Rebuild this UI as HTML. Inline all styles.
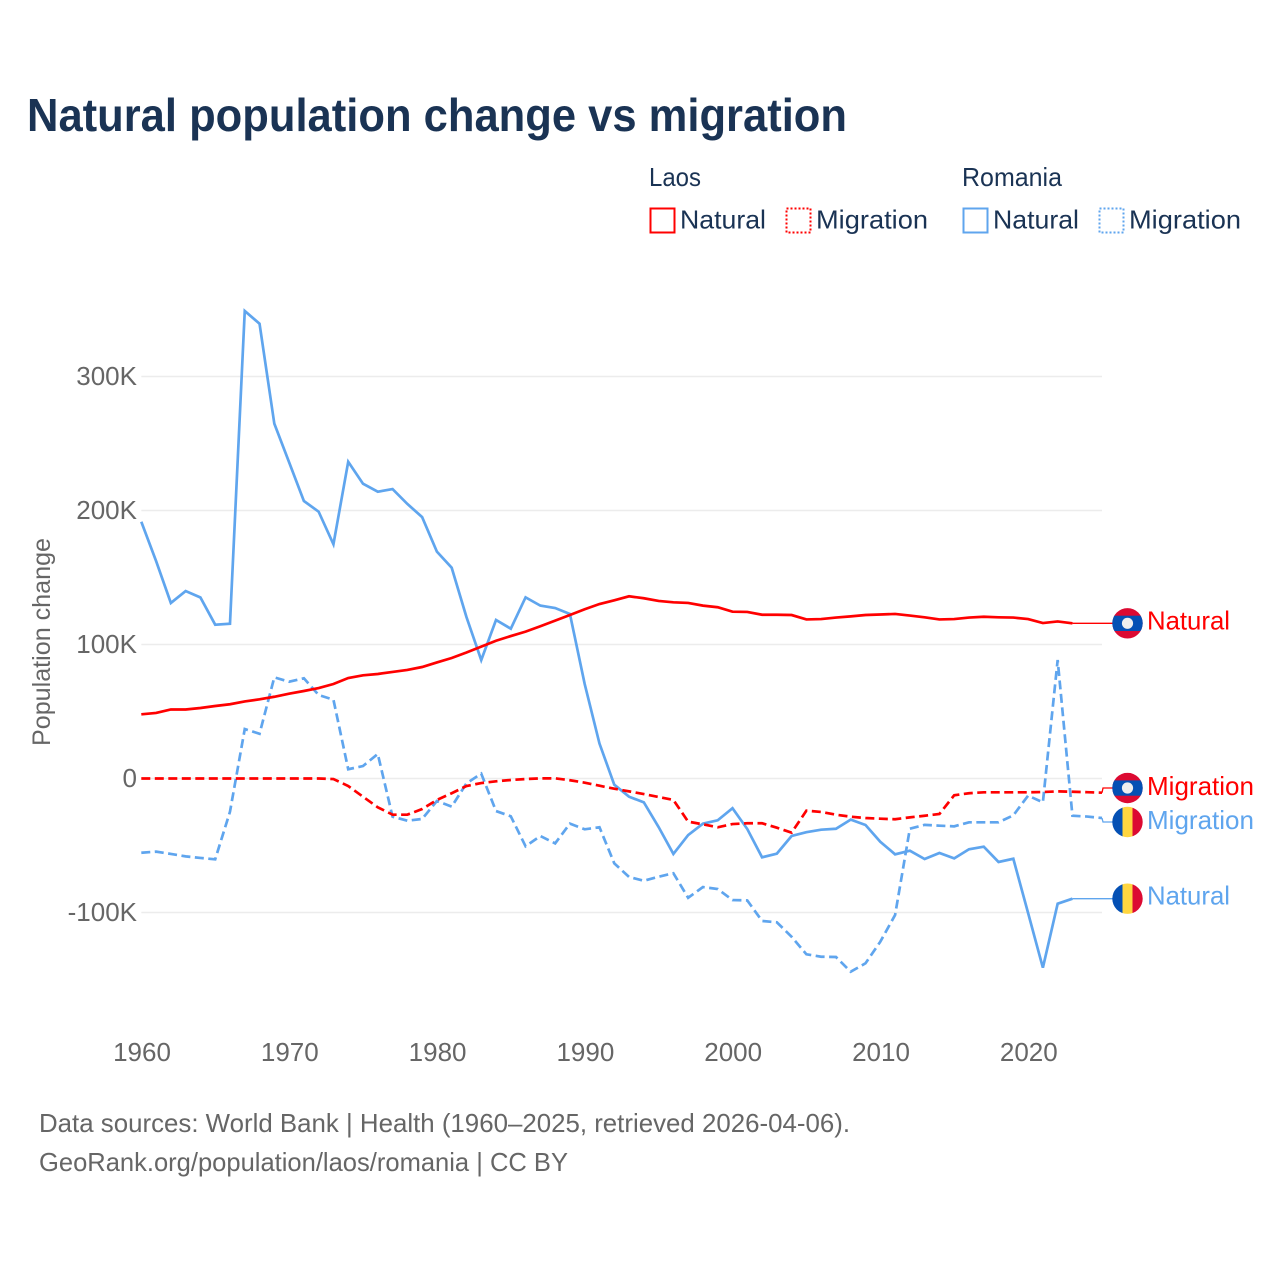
<!DOCTYPE html>
<html lang="en">
<head>
<meta charset="utf-8">
<title>Natural population change vs migration</title>
<style>
html,body{margin:0;padding:0;background:#fff;}
svg{display:block;font-family:"Liberation Sans",sans-serif;}
</style>
</head>
<body>
<svg id="chart" xmlns="http://www.w3.org/2000/svg" width="1280" height="1280" viewBox="0 0 1280 1280">
  <rect width="1280" height="1280" fill="#ffffff"/>
  <text x="27" y="131" font-size="46" font-weight="700" fill="#1a3354" textLength="820" lengthAdjust="spacingAndGlyphs">Natural population change vs migration</text>

  <g font-size="26" fill="#1a3354">
    <text x="649" y="186" textLength="52" lengthAdjust="spacingAndGlyphs">Laos</text>
    <text x="962" y="186" textLength="100" lengthAdjust="spacingAndGlyphs">Romania</text>
    <rect x="650.5" y="208.5" width="24" height="24" fill="none" stroke="#ff0000" stroke-width="2"/>
    <text x="680" y="228.5" textLength="86" lengthAdjust="spacingAndGlyphs">Natural</text>
    <rect x="786.5" y="208.5" width="24" height="24" fill="none" stroke="#ff0000" stroke-width="2" stroke-dasharray="2 2"/>
    <text x="816" y="228.5" textLength="112" lengthAdjust="spacingAndGlyphs">Migration</text>
    <rect x="963.5" y="208.5" width="24" height="24" fill="none" stroke="#5fa5ee" stroke-width="2"/>
    <text x="993" y="228.5" textLength="86" lengthAdjust="spacingAndGlyphs">Natural</text>
    <rect x="1099.5" y="208.5" width="24" height="24" fill="none" stroke="#5fa5ee" stroke-width="2" stroke-dasharray="2 2"/>
    <text x="1129" y="228.5" textLength="112" lengthAdjust="spacingAndGlyphs">Migration</text>
  </g>

  <text transform="translate(50,642) rotate(-90)" text-anchor="middle" font-size="25" fill="#666666" textLength="208" lengthAdjust="spacingAndGlyphs">Population change</text>

  <g id="grid"></g>
  <g id="y-ticks" font-size="26" fill="#666666" text-anchor="end"></g>
  <g id="x-ticks" font-size="26" fill="#666666" text-anchor="middle"></g>
  <g id="series"></g>

  <defs>
    <clipPath id="flag-clip-1"><circle cx="1127.5" cy="623.3" r="15.2"/></clipPath>
    <clipPath id="flag-clip-2"><circle cx="1127.5" cy="788" r="15.2"/></clipPath>
    <clipPath id="flag-clip-3"><circle cx="1127.5" cy="822" r="15.2"/></clipPath>
    <clipPath id="flag-clip-4"><circle cx="1127.5" cy="898.7" r="15.2"/></clipPath>
  </defs>

  <g clip-path="url(#flag-clip-1)">
    <rect x="1112" y="608" width="31" height="31" fill="#dc0a32"/>
    <rect x="1112" y="615.7" width="31" height="15.3" fill="#0450b4"/>
    <circle cx="1127.5" cy="623.3" r="5.6" fill="#eeeeee"/>
  </g>
  <g clip-path="url(#flag-clip-2)">
    <rect x="1112" y="772.7" width="31" height="31" fill="#dc0a32"/>
    <rect x="1112" y="780.4" width="31" height="15.3" fill="#0450b4"/>
    <circle cx="1127.5" cy="788" r="5.6" fill="#eeeeee"/>
  </g>
  <g clip-path="url(#flag-clip-3)">
    <rect x="1112" y="806" width="11" height="32" fill="#0450b4"/>
    <rect x="1122.5" y="806" width="10" height="32" fill="#ffd640"/>
    <rect x="1132.5" y="806" width="11" height="32" fill="#dc0a32"/>
  </g>
  <g clip-path="url(#flag-clip-4)">
    <rect x="1112" y="883" width="11" height="32" fill="#0450b4"/>
    <rect x="1122.5" y="883" width="10" height="32" fill="#ffd640"/>
    <rect x="1132.5" y="883" width="11" height="32" fill="#dc0a32"/>
  </g>

  <g font-size="26">
    <text x="1147" y="629.5" fill="#ff0000" textLength="83" lengthAdjust="spacingAndGlyphs">Natural</text>
    <text x="1147" y="795" fill="#ff0000" textLength="107" lengthAdjust="spacingAndGlyphs">Migration</text>
    <text x="1147" y="829" fill="#5fa5ee" textLength="107" lengthAdjust="spacingAndGlyphs">Migration</text>
    <text x="1147" y="904.5" fill="#5fa5ee" textLength="83" lengthAdjust="spacingAndGlyphs">Natural</text>
  </g>

  <g font-size="26" fill="#666666">
    <text x="39" y="1132" textLength="811" lengthAdjust="spacingAndGlyphs">Data sources: World Bank | Health (1960–2025, retrieved 2026-04-06).</text>
    <text x="39" y="1171" textLength="529" lengthAdjust="spacingAndGlyphs">GeoRank.org/population/laos/romania | CC BY</text>
  </g>
</svg>
<script>
const startYear = 1960;
const xTickYears = [1960, 1970, 1980, 1990, 2000, 2010, 2020];
const yTickValues = [300, 200, 100, 0, -100];
const yTickLabels = ['300K', '200K', '100K', '0', '-100K'];

const romaniaNatural = [191.6,162.3,131,139.9,135.1,114.8,115.5,348.9,339.4,264.8,236,207.1,199.1,174.8,236.4,220,214,216,204.9,195.1,169.3,157.3,120.5,88.4,118.3,111.8,135.2,129,127.2,122.8,70.5,26.1,-4.6,-13.6,-17.8,-36.2,-56.3,-42.2,-33.7,-31.2,-22.2,-37.7,-58.8,-56.1,-42.9,-40.1,-38.2,-37.5,-30.7,-34.7,-47.2,-56.6,-53.9,-60.1,-55.6,-59.6,-52.8,-50.9,-62.3,-59.9,-100.4,-141.2,-93.4,-89.7];
const laosNatural = [47.9,48.9,51.5,51.5,52.6,54.1,55.4,57.5,59.1,61,63.3,65.3,67.5,70.5,75,77,78,79.5,81,83.2,86.6,89.9,94,98.4,102.8,106.3,109.6,113.6,117.8,122,126.3,130.2,133,136,134.5,132.5,131.5,131,129,127.8,124.5,124.3,122.2,122.2,122,118.7,119,120.1,121,122,122.4,122.8,121.6,120.3,118.7,119,120.1,120.7,120.3,120.1,119,116,117.2,115.8];
const laosMigration = [0,0,0,0,0,0,0,0,0,0,0,0,0,-0.4,-5.6,-13.6,-21.5,-27,-27,-22.8,-16,-11,-5.6,-3.4,-2.1,-1.1,-0.4,0.1,0.1,-1.3,-3.1,-5.4,-7.6,-9.6,-11.6,-13.8,-16,-32.2,-34.2,-36.4,-34,-33.4,-33.4,-36.7,-40.4,-24,-25,-27,-28.5,-29.5,-30,-30.4,-29,-27.8,-26.5,-12.5,-11,-10.3,-10.3,-10.3,-10.3,-10.1,-9.6,-9.9,-10.2,-10.6];
const romaniaMigration = [-55.4,-54.6,-56.3,-58.1,-59.3,-60.3,-24.8,36.9,33.4,75.5,72.2,74.8,62.3,58.8,6.9,9.3,18.3,-28.5,-31.5,-30.2,-16.8,-21,-3.6,3.6,-24.3,-28.2,-50.6,-42.9,-48.4,-33.7,-37.9,-36.4,-63.3,-73.5,-76.3,-73.3,-70.7,-89,-81,-82.5,-90.7,-91,-106.3,-107.3,-118.1,-131.2,-133,-133.2,-144.2,-137.9,-121.8,-101.9,-37.5,-34.6,-35.2,-35.7,-32.7,-32.7,-32.7,-27.5,-12.8,-17.8,88.4,-27.8,-28.4,-29.5];

const NS = 'http://www.w3.org/2000/svg';
const BLUE = '#5fa5ee';
const RED = '#ff0000';
const DASH = '9 4.5';
const FLAG_X = 1113;

function xScale(year) { return 141.3 + (year - startYear) * 14.78; }
function yScale(v) { return 778.5 - v * 1.34; }

const gridGroup = document.getElementById('grid');
const yTickGroup = document.getElementById('y-ticks');
const xTickGroup = document.getElementById('x-ticks');
const seriesGroup = document.getElementById('series');

yTickValues.forEach(function (v, i) {
  const line = document.createElementNS(NS, 'line');
  
  
  line.setAttribute('x1', xScale(startYear));
  line.setAttribute('x2', xScale(2025));
  line.setAttribute('y1', yScale(v));
  line.setAttribute('y2', yScale(v));
  line.setAttribute('stroke', '#ececec');
  line.setAttribute('stroke-width', '1.5');
  gridGroup.appendChild(line);
  const t = document.createElementNS(NS, 'text');
  
  
  t.setAttribute('x', 137);
  t.setAttribute('y', yScale(v) + 8.5);
  t.textContent = yTickLabels[i];
  yTickGroup.appendChild(t);
});

xTickYears.forEach(function (yr) {
  const t = document.createElementNS(NS, 'text');
  
  
  t.setAttribute('x', xScale(yr) + 0.7);
  t.setAttribute('y', 1061);
  t.textContent = String(yr);
  xTickGroup.appendChild(t);
});

function linePath(values) {
  return values.map(function (v, i) {
    return (i ? 'L' : 'M') + xScale(startYear + i).toFixed(2) + ' ' + yScale(v).toFixed(2);
  }).join('');
}

function drawConnector(values, color, flagY) {
  const lastX = xScale(startYear + values.length - 1);
  const lastY = yScale(values[values.length - 1]);
  const c = document.createElementNS(NS, 'path');
  
  
  const midX = lastX + 1;
  c.setAttribute('d', 'M' + lastX + ' ' + lastY + 'L' + midX + ' ' + flagY + 'L' + FLAG_X + ' ' + flagY);
  c.setAttribute('fill', 'none');
  c.setAttribute('stroke', color);
  c.setAttribute('stroke-width', '1.3');
  seriesGroup.appendChild(c);
}

function drawSeries(values, color, dashed, name, flagY) {
  drawConnector(values, color, flagY);
  const p = document.createElementNS(NS, 'path');
  
  
  p.setAttribute('d', linePath(values));
  p.setAttribute('fill', 'none');
  p.setAttribute('stroke', color);
  p.setAttribute('stroke-width', '2.7');
  p.setAttribute('stroke-linejoin', 'miter');
  if (dashed) p.setAttribute('stroke-dasharray', DASH);
  seriesGroup.appendChild(p);
}

drawSeries(romaniaMigration, BLUE, true, 'line-romania-migration', 822);
drawSeries(romaniaNatural, BLUE, false, 'line-romania-natural', 898.7);
drawSeries(laosNatural, RED, false, 'line-laos-natural', 623.3);
drawSeries(laosMigration, RED, true, 'line-laos-migration', 788);
</script>
</body>
</html>
